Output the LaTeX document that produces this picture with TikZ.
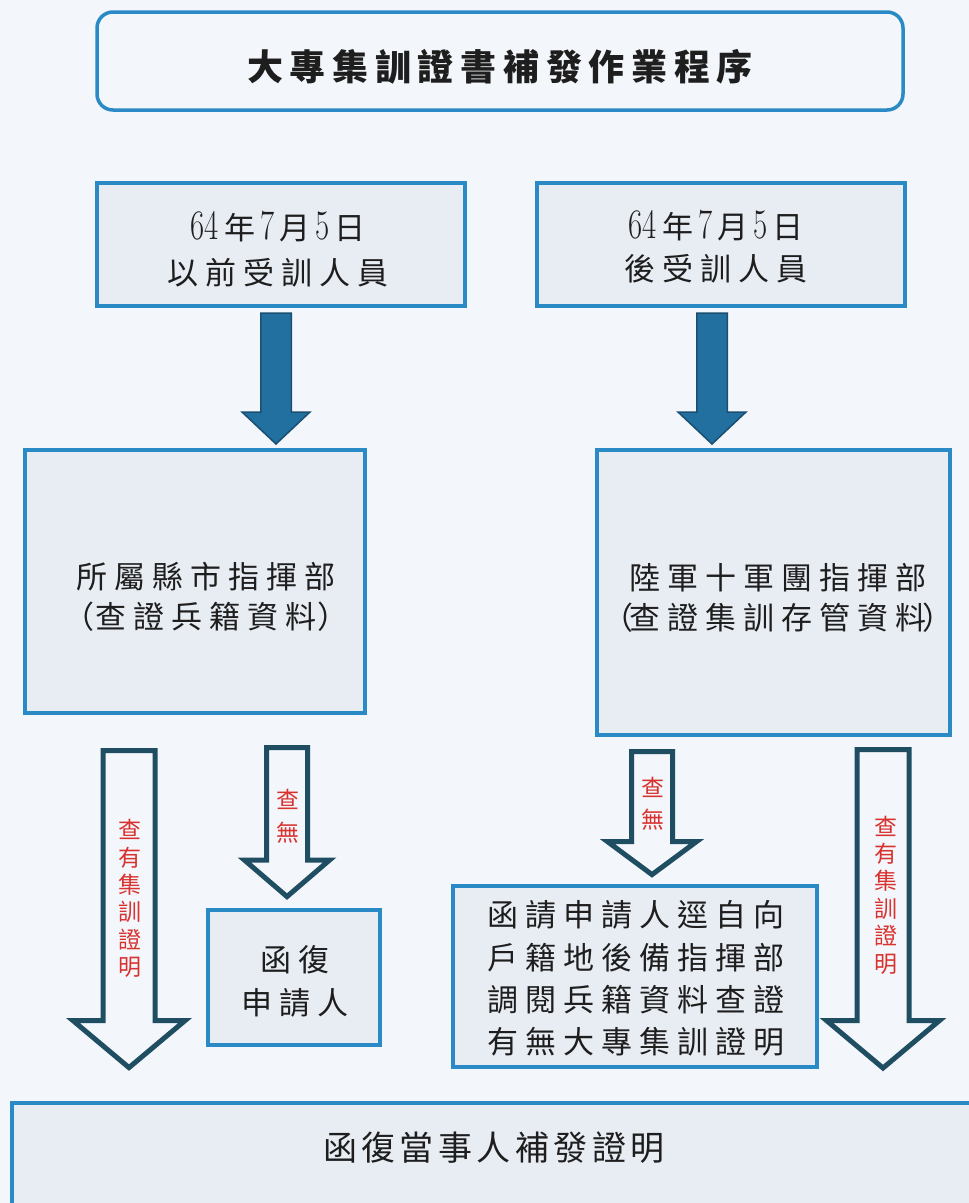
\documentclass[tikz,border=0pt]{standalone}
\usepackage{fontspec}
\usepackage{graphicx}
\usetikzlibrary{calc}
\newfontfamily\cjk{Noto Sans CJK TC}
\definecolor{bgc}{HTML}{F3F6FA}
\definecolor{boxf}{HTML}{E8ECF3}
\definecolor{boxc}{HTML}{2A8AC5}
\definecolor{darkf}{HTML}{21709F}
\definecolor{darkd}{HTML}{1A4F72}
\definecolor{hollc}{HTML}{1F4E63}
\definecolor{redc}{HTML}{D8312E}
\definecolor{txtc}{HTML}{1E1E1E}
\newlength\lsp
\setlength\lsp{7pt}
\makeatletter
\def\spaced#1{\spaced@first#1\relax}
\def\spaced@first#1{#1\spaced@next}
\def\spaced@next#1{\ifx\relax#1\else\kern\lsp\relax#1\expandafter\spaced@next\fi}
\makeatother
\newcommand\dg[1]{\scalebox{0.88}[1.2]{\rmfamily\fontsize{35}{35}\selectfont #1}}
\newcommand\datetext{\dg{64}\kern5pt 年\kern5pt\dg{7}\kern5pt 月\kern5pt\dg{5}\kern5pt 日}
\newcommand\blockarrow[6]{%
  \draw[#6] let \p1=(#1), \p2=(#2) in
    (\x1-#3pt,\y1) -- (\x1+#3pt,\y1) -- (\x1+#3pt,\y2+#5pt) -- (\x1+#4pt,\y2+#5pt)
    -- (\x2,\y2) -- (\x1-#4pt,\y2+#5pt) -- (\x1-#3pt,\y2+#5pt) -- cycle;}
\tikzset{
  box/.style={draw=boxc, line width=3.5pt, fill=boxf, inner sep=0pt},
  titlebox/.style={box, fill=bgc, rounded corners=16pt},
  txt/.style={inner sep=0pt, align=center, text=txtc, font=\cjk\fontsize{31}{42}\selectfont},
  redlab/.style={inner sep=0pt, align=center, text=redc, font=\cjk\fontsize{23}{27.4}\selectfont},
  thick arrow/.style={fill=darkf, draw=darkd, line width=1.5pt, line join=miter},
  hollow arrow/.style={fill=bgc, draw=hollc, line width=5pt, line join=miter}
}
\begin{document}
\begin{tikzpicture}[x=1pt,y=-1pt]
\useasboundingbox (0,0) rectangle (969,1203);
\fill[bgc] (0,0) rectangle (969,1203);
% boxes
\node[titlebox, minimum width=806pt, minimum height=98pt] (title) at (500,61) {};
\node[box, minimum width=368pt, minimum height=123pt] (boxA) at (281,244.5) {};
\node[box, minimum width=368pt, minimum height=123pt] (boxB) at (721,244.5) {};
\node[box, minimum width=340pt, minimum height=263pt] (boxC) at (195,581.5) {};
\node[box, minimum width=353pt, minimum height=285pt] (boxD) at (773.5,592.5) {};
\node[box, minimum width=172pt, minimum height=135pt] (boxE) at (294,977.5) {};
\node[box, minimum width=364pt, minimum height=181pt] (boxF) at (635,976.5) {};
\node[box, minimum width=978pt, minimum height=128pt] (boxG) at (501,1167) {};
% texts
\node[txt, font=\cjk\bfseries\fontsize{36}{40}\selectfont] (tTitle) at (500,67)
  {\setlength\lsp{6.7pt}\spaced{大專集訓證書補發作業程序}};
\node[txt, font=\cjk\fontsize{31}{45}\selectfont] (tA) at (278,249.5)
  {\datetext\\\spaced{以前受訓人員}};
\node[txt] (tB) at (716,247)
  {\datetext\\\spaced{後受訓人員}};
\node[txt, font=\cjk\fontsize{31}{40}\selectfont] (tC) at (206,597)
  {\spaced{所屬縣市指揮部}\\（\kern1pt\spaced{查證兵籍資料}\kern1pt）};
\node[txt, font=\cjk\fontsize{31}{40}\selectfont] (tD) at (778,598)
  {\spaced{陸軍十軍團指揮部}\\（\kern-4pt\spaced{查證集訓存管資料}\kern-4pt）};
\node[txt, font=\cjk\fontsize{31}{43}\selectfont] (tE) at (295,981.5)
  {\spaced{函復}\\\spaced{申請人}};
\node[txt, font=\cjk\fontsize{31}{42.3}\selectfont] (tF) at (636,978.5)
  {\spaced{函請申請人逕自向}\\\spaced{戶籍地後備指揮部}\\\spaced{調閱兵籍資料查證}\\\spaced{有無大專集訓證明}};
\node[txt, font=\cjk\fontsize{34}{40}\selectfont] (tG) at (494,1148)
  {\setlength\lsp{4.5pt}\spaced{函復當事人補發證明}};
% thick arrows
\coordinate (ta1) at (276,313); \coordinate (ta2) at (276,444);
\coordinate (tb1) at (712,313); \coordinate (tb2) at (712,444);
\blockarrow{ta1}{ta2}{15.25}{34}{32}{thick arrow}
\blockarrow{tb1}{tb2}{15.25}{34}{32}{thick arrow}
% hollow arrows
\coordinate (h1a) at (129,750.5); \coordinate (h1b) at (129,1067.6);
\coordinate (h2a) at (287,747.5); \coordinate (h2b) at (287,896.6);
\coordinate (h3a) at (652,751.5); \coordinate (h3b) at (652,874.6);
\coordinate (h4a) at (883,749.5); \coordinate (h4b) at (883,1068);
\blockarrow{h1a}{h1b}{26}{56}{47}{hollow arrow}
\blockarrow{h2a}{h2b}{20.5}{42.5}{36.5}{hollow arrow}
\blockarrow{h3a}{h3b}{20.5}{44.5}{33}{hollow arrow}
\blockarrow{h4a}{h4b}{26}{56.5}{47.5}{hollow arrow}
% red labels
\node[redlab] (l1) at (130,898.5) {查\\有\\集\\訓\\證\\明};
\node[redlab, font=\cjk\fontsize{23}{33}\selectfont] (l2) at (288,816) {查\\無};
\node[redlab, font=\cjk\fontsize{23}{32}\selectfont] (l3) at (653,804) {查\\無};
\node[redlab] (l4) at (886,895) {查\\有\\集\\訓\\證\\明};
\end{tikzpicture}
\end{document}
